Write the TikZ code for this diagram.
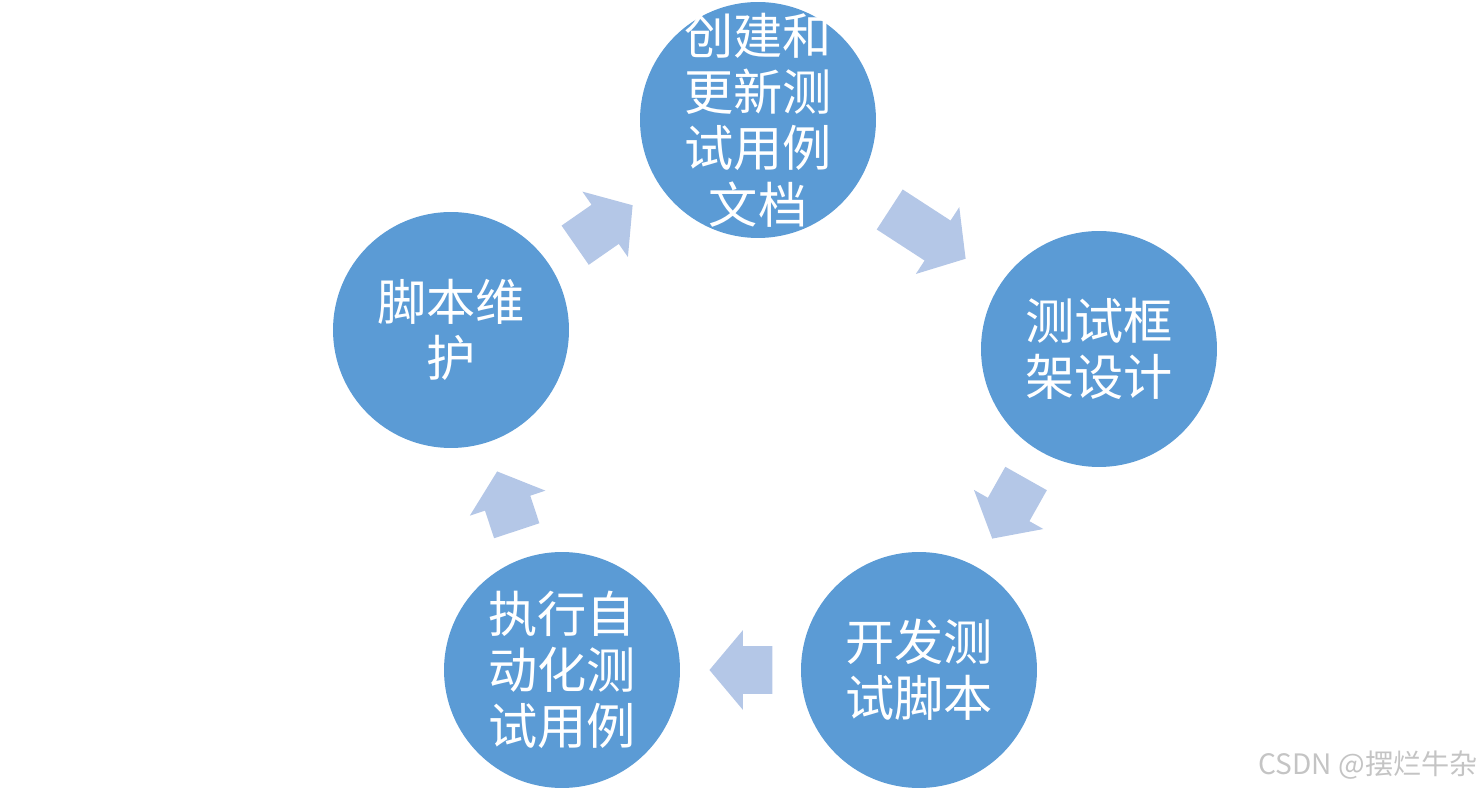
\documentclass[tikz,border=0pt]{standalone}
\usepackage{fontspec}
\newfontfamily\cjk{Noto Sans CJK SC}
\usetikzlibrary{positioning}
\usetikzlibrary{shapes.arrows}
\definecolor{stageblue}{HTML}{5B9BD5}
\definecolor{arrowblue}{HTML}{B4C7E7}
\definecolor{markgray}{HTML}{C4C4C4}
\tikzstyle{stage} = [circle,
minimum size=4.72cm, inner sep=0pt,
fill=stageblue]
\tikzstyle{stagetext} = [text=white,
align=center, inner sep=0pt,
font=\cjk\fontsize{28}{32}\selectfont]
\tikzstyle{cyclearrow} = [single arrow,
single arrow head extend=0.32cm,
single arrow tip angle=100,
inner xsep=0pt, inner ysep=0.47cm,
anchor=tip, fill=arrowblue]

\begin{document}
\begin{tikzpicture}[x=0.02cm, y=-0.02cm] % pixel grid
    \useasboundingbox (0,0) rectangle (1482,790);
    % stages of the cycle
    \node[stage, label={[stagetext]center:创建和\\更新测\\试用例\\文档}] (docs) at (758,120) {};
    \node[stage, label={[stagetext]center:测试框\\架设计}] (design) at (1099,349) {};
    \node[stage, label={[stagetext]center:开发测\\试脚本}] (develop) at (919,670) {};
    \node[stage, label={[stagetext]center:执行自\\动化测\\试用例}] (execute) at (562,670) {};
    \node[stage, label={[stagetext]center:脚本维\\护}] (maintain) at (451,330) {};
    % arrows between stages
    \node[cyclearrow, minimum height=1.81cm, rotate=-33] (docs-design) at (966,259) {};
    \node[cyclearrow, minimum height=1.38cm, rotate=-119.4] (design-develop) at (992,539) {};
    \node[cyclearrow, minimum height=1.26cm, rotate=180] (develop-execute) at (709,670) {};
    \node[cyclearrow, minimum height=1.25cm, rotate=108.3] (execute-maintain) at (497,471) {};
    \node[cyclearrow, minimum height=1.40cm, rotate=34.8] (maintain-docs) at (633,205) {};
    % watermark
    \node[anchor=east, inner sep=0pt, text=markgray, font=\cjk\fontsize{16}{19}\selectfont] (mark) at (1478,765) {CSDN @摆烂牛杂};
\end{tikzpicture}
\end{document}
